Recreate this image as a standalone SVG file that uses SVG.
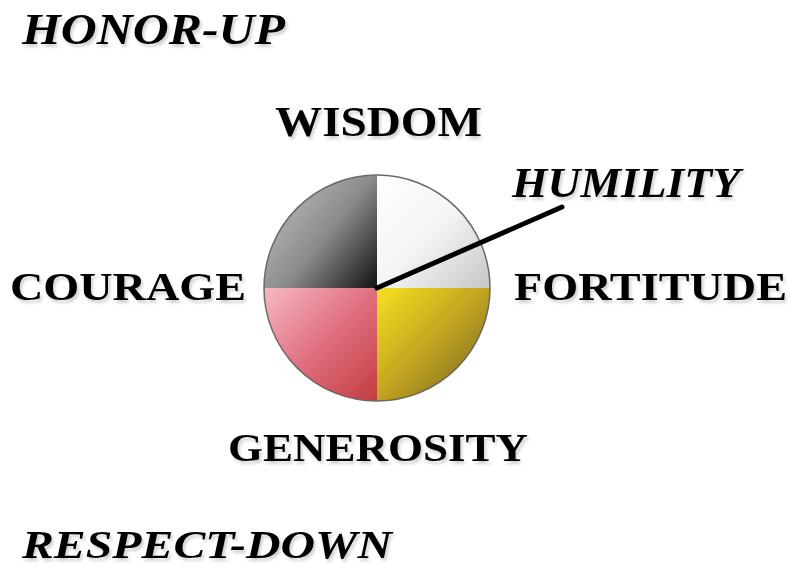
<svg xmlns="http://www.w3.org/2000/svg" width="790" height="569" viewBox="0 0 790 569">
  <style>
    .lbl { font-family: "Liberation Serif", "Times New Roman", serif; font-weight: bold; fill: #000; filter: url(#shadow); }
    .it { font-style: italic; }
    .edge { fill: none; stroke: #000; stroke-width: 5; stroke-linecap: round; }
    .rim { fill: none; stroke: #6a6a6a; stroke-width: 1.5; }
  </style>
  <defs>
    <filter id="shadow" x="-5%" y="-20%" width="115%" height="150%">
      <feDropShadow dx="2" dy="3" stdDeviation="1.5" flood-color="#000" flood-opacity="0.18"/>
    </filter>
    <linearGradient id="gTL" x1="0" y1="0.1" x2="1" y2="0.9">
      <stop offset="0" stop-color="#c4c4c4"/>
      <stop offset="0.55" stop-color="#8a8a8a"/>
      <stop offset="1" stop-color="#1e1e1e"/>
    </linearGradient>
    <linearGradient id="gTR" x1="0" y1="0" x2="1" y2="1">
      <stop offset="0" stop-color="#ffffff"/>
      <stop offset="0.5" stop-color="#f4f4f4"/>
      <stop offset="1" stop-color="#c6c6c8"/>
    </linearGradient>
    <linearGradient id="gBL" x1="0" y1="0" x2="1" y2="1">
      <stop offset="0" stop-color="#f6b8c2"/>
      <stop offset="0.5" stop-color="#e07080"/>
      <stop offset="1" stop-color="#c23c40"/>
    </linearGradient>
    <linearGradient id="gBR" x1="0" y1="0" x2="1" y2="1">
      <stop offset="0" stop-color="#f8e020"/>
      <stop offset="0.45" stop-color="#c8a820"/>
      <stop offset="1" stop-color="#6a6024"/>
    </linearGradient>
  </defs>
  <rect width="790" height="569" fill="#fff"/>

  <g id="wheel">
    <path d="M377,288 L264,288 A113,113 0 0 1 377,175 Z" fill="url(#gTL)"/>
    <path d="M377,288 L377,175 A113,113 0 0 1 490,288 Z" fill="url(#gTR)"/>
    <path d="M377,288 L490,288 A113,113 0 0 1 377,401 Z" fill="url(#gBR)"/>
    <path d="M377,288 L377,401 A113,113 0 0 1 264,288 Z" fill="url(#gBL)"/>
    <circle class="rim" cx="377" cy="288" r="113"/>
  </g>

  <g id="connectors">
    <line class="edge" x1="377" y1="288" x2="562" y2="207"/>
  </g>

  <g id="honor-up"><text class="lbl it" x="22" y="44" font-size="44" textLength="263" lengthAdjust="spacingAndGlyphs">HONOR-UP</text></g>
  <g id="wisdom"><text class="lbl" x="275" y="136" font-size="42" textLength="207" lengthAdjust="spacingAndGlyphs">WISDOM</text></g>
  <g id="humility"><text class="lbl it" x="512" y="197" font-size="42" textLength="228" lengthAdjust="spacingAndGlyphs">HUMILITY</text></g>
  <g id="courage"><text class="lbl" x="10" y="300" font-size="41" textLength="236" lengthAdjust="spacingAndGlyphs">COURAGE</text></g>
  <g id="fortitude"><text class="lbl" x="514" y="300" font-size="41" textLength="273" lengthAdjust="spacingAndGlyphs">FORTITUDE</text></g>
  <g id="generosity"><text class="lbl" x="228" y="461" font-size="41" textLength="300" lengthAdjust="spacingAndGlyphs">GENEROSITY</text></g>
  <g id="respect-down"><text class="lbl it" x="22" y="558" font-size="41" textLength="370" lengthAdjust="spacingAndGlyphs">RESPECT-DOWN</text></g>
</svg>
